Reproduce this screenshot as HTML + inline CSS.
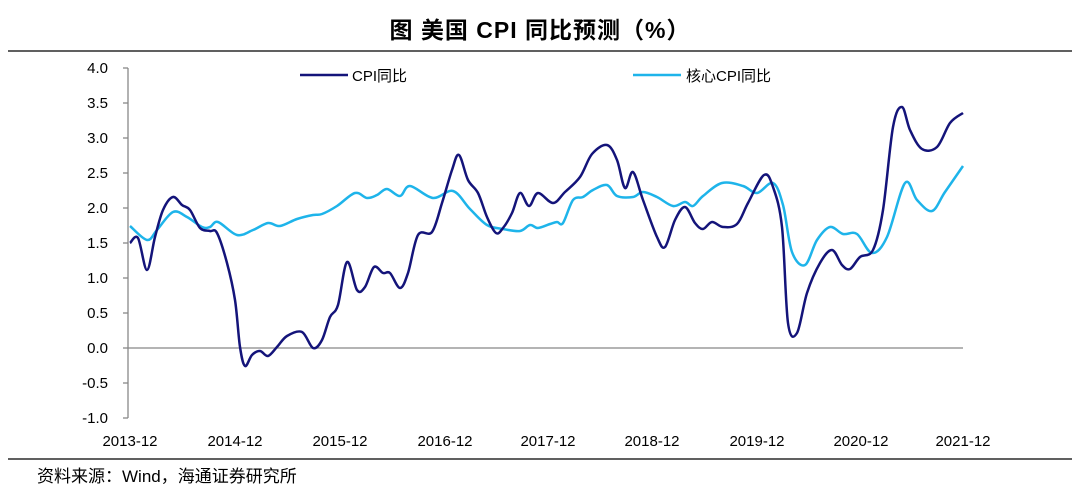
<!DOCTYPE html>
<html><head><meta charset="utf-8"><style>
html,body{margin:0;padding:0;background:#fff;}
svg{display:block;font-family:"Liberation Sans","Noto Sans CJK SC",sans-serif;}
</style></head><body>
<svg id="c" width="1080" height="495" viewBox="0 0 1080 495" xmlns="http://www.w3.org/2000/svg">
<text x="540" y="38" text-anchor="middle" font-size="23" font-weight="bold" letter-spacing="1" fill="#000">图  美国 CPI 同比预测（%）</text>
<line x1="8" y1="51" x2="1072" y2="51" stroke="#000" stroke-width="1.2"/>
<line x1="8" y1="459" x2="1072" y2="459" stroke="#000" stroke-width="1.2"/>
<text x="37" y="482" font-size="17" fill="#000">资料来源：Wind，海通证券研究所</text>
<g stroke="#888" stroke-width="1.3">
<line x1="128" y1="68" x2="128" y2="418"/>
<line x1="128" y1="348" x2="963" y2="348"/>
<line x1="123" y1="68" x2="128" y2="68"/><line x1="123" y1="103" x2="128" y2="103"/>
<line x1="123" y1="138" x2="128" y2="138"/><line x1="123" y1="173" x2="128" y2="173"/>
<line x1="123" y1="208" x2="128" y2="208"/><line x1="123" y1="243" x2="128" y2="243"/>
<line x1="123" y1="278" x2="128" y2="278"/><line x1="123" y1="313" x2="128" y2="313"/>
<line x1="123" y1="348" x2="128" y2="348"/><line x1="123" y1="383" x2="128" y2="383"/>
<line x1="123" y1="418" x2="128" y2="418"/>
</g>
<g font-size="15" fill="#000" text-anchor="end">
<text x="108" y="73">4.0</text><text x="108" y="108">3.5</text><text x="108" y="143">3.0</text>
<text x="108" y="178">2.5</text><text x="108" y="213">2.0</text><text x="108" y="248">1.5</text>
<text x="108" y="283">1.0</text><text x="108" y="318">0.5</text><text x="108" y="353">0.0</text>
<text x="108" y="388">-0.5</text><text x="108" y="423">-1.0</text>
</g>
<g font-size="15" fill="#000" text-anchor="middle">
<text x="130" y="446">2013-12</text><text x="235" y="446">2014-12</text><text x="340" y="446">2015-12</text>
<text x="445" y="446">2016-12</text><text x="548" y="446">2017-12</text><text x="652" y="446">2018-12</text>
<text x="757" y="446">2019-12</text><text x="861" y="446">2020-12</text><text x="963" y="446">2021-12</text>
</g>
<line x1="300" y1="75" x2="348" y2="75" stroke="#14147a" stroke-width="2.5"/>
<text x="352" y="81" font-size="15">CPI同比</text>
<line x1="633" y1="75" x2="681" y2="75" stroke="#1eb4ea" stroke-width="2.5"/>
<text x="686" y="81" font-size="15">核心CPI同比</text>
<polyline class="s" fill="none" stroke="#1eb4ea" stroke-width="2.5" stroke-linejoin="round" points="130,226 147,240 157,230 173,212 187,217 202,227 210,227 218,222 237,235 253,230 268,223 280,226 297,219 313,215 322,214 337,206 355,193 367,198 377,195 387,189 400,196 410,186 433,198 453,191 470,209 487,225 503,229 520,231 530,225 538,228 550,224 557,222 563,223 573,200 583,197 593,190 607,185 617,196 633,197 643,192 657,197 673,206 685,202 693,206 703,196 722,183 743,186 757,193 773,183 783,205 792,252 805,265 817,240 830,227 843,234 857,234 872,253 887,237 905,183 917,200 932,211 945,192 963,166"/>
<polyline class="s" fill="none" stroke="#14147a" stroke-width="2.5" stroke-linejoin="round" points="130,243 138,238 147,270 155,237 163,210 173,197 182,205 190,210 200,228 210,231 217,233 227,263 235,300 240,347 245,366 252,355 260,351 268,356 277,347 287,336 302,332 313,348 322,340 330,317 338,305 347,262 357,290 365,287 374,267 383,273 390,273 400,288 408,273 418,235 432,232 442,203 452,170 459,155 468,180 478,193 487,217 496,233 503,228 512,213 520,193 529,206 538,193 553,203 565,192 580,177 592,154 607,145 617,160 625,188 633,172 643,200 657,237 665,247 675,220 685,207 695,223 703,229 712,222 723,227 737,224 748,203 764,175 773,187 782,227 788,323 797,333 807,293 820,263 832,250 842,265 850,269 860,257 873,250 883,210 893,127 902,107 910,130 922,149 937,147 950,123 963,113"/>
</svg>
<script>
(function(){
var ns="http://www.w3.org/2000/svg";
document.querySelectorAll("polyline.s").forEach(function(pl){
var p=pl.getAttribute("points").trim().split(/\s+/).map(function(s){return s.split(",").map(Number);});
var d="M"+p[0][0]+","+p[0][1];
for(var i=0;i<p.length-1;i++){
var p0=p[i-1]||p[i],p1=p[i],p2=p[i+1],p3=p[i+2]||p2;
var t=0.5/3;
var c1x=p1[0]+(p2[0]-p0[0])*t,c1y=p1[1]+(p2[1]-p0[1])*t;
var c2x=p2[0]-(p3[0]-p1[0])*t,c2y=p2[1]-(p3[1]-p1[1])*t;
d+=" C"+c1x.toFixed(1)+","+c1y.toFixed(1)+" "+c2x.toFixed(1)+","+c2y.toFixed(1)+" "+p2[0]+","+p2[1];
}
var path=document.createElementNS(ns,"path");
path.setAttribute("d",d);path.setAttribute("fill","none");
path.setAttribute("stroke",pl.getAttribute("stroke"));path.setAttribute("stroke-width","2.5");
path.setAttribute("stroke-linejoin","round");
pl.parentNode.replaceChild(path,pl);
});
})();
</script>
</body></html>
